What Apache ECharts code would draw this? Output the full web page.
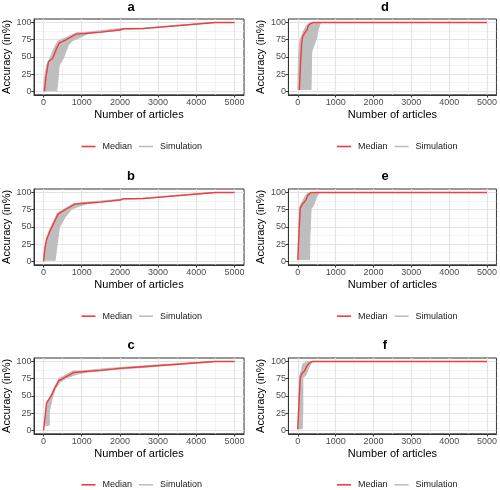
<!DOCTYPE html>
<html><head><meta charset="utf-8">
<script src="https://cdn.jsdelivr.net/npm/echarts@6/dist/echarts.min.js"></script>
<style>html,body{margin:0;padding:0;background:#fff}#c{width:500px;height:490px}</style>
</head><body><div id="c"></div>
<script>
const panelLabels = ['a', 'b', 'c', 'd', 'e', 'f'];
const xTicks = [0, 1000, 2000, 3000, 4000, 5000];
const xMinor = [500, 1500, 2500, 3500, 4500];
const yTicks = [0, 25, 50, 75, 100];
const yMinor = [12.5, 37.5, 62.5, 87.5];

// Panel a
const medianA = [[25,0],[60,20],[130,43],[240,48],[340,62],[410,70],[600,75],[850,83],[1100,84],[1500,86],[2000,89],[2100,91],[2600,91],[4500,100],[5000,100]];
const simLeftA = [[0,0],[30,20],[80,38],[165,48],[300,65],[385,73],[600,78],[870,85],[1200,86],[2000,91],[2600,92],[4400,100],[5000,100]];
const simRightA = [[340,0],[370,13],[410,38],[515,48],[645,67],[735,73],[950,78],[1170,84],[1500,86],[2000,89],[2600,91],[4500,100],[5000,100]];
// Panel b
const medianB = [[0,0],[40,20],[83,32],[170,44],[256,54],[386,69],[600,76],[822,83],[1000,84],[1500,86],[2000,89],[2100,91],[2600,91],[4500,100],[5000,100]];
const simLeftB = [[0,1],[30,20],[70,32],[150,45],[240,55],[360,70],[580,77],[800,84],[1000,85],[2000,90],[2600,92],[4400,100],[5000,100]];
const simRightB = [[300,1],[345,20],[415,49],[560,64],[735,76],[1040,82],[1170,84],[1500,86],[2000,89],[2600,91],[4500,100],[5000,100]];
// Panel c
const medianC = [[0,0],[40,20],[80,40],[200,50],[300,62],[400,72],[800,84],[1000,85],[1500,87],[2000,90],[2500,92],[4500,100],[5000,100]];
const simLeftC = [[40,6],[60,30],[100,42],[210,52],[320,66],[400,75],[780,86],[1000,86],[1500,89],[2000,91],[2500,93],[4400,100],[5000,100]];
const simRightC = [[150,7],[150,27],[215,44],[300,60],[430,70],[600,76],[900,82],[1200,85],[2000,89],[2500,91],[4500,100],[5000,100]];
// Panel d
const medianD = [[40,2],[70,40],[100,70],[130,80],[200,86],[250,90],[270,95],[330,98],[400,100],[5000,100]];
const simLeftD = [[0,2],[20,50],[60,75],[146,87],[230,95],[330,100],[5000,100]];
const simRightD = [[347,2],[365,58],[433,68],[496,78],[538,90],[600,100],[5000,100]];
// Panel e
const medianE = [[0,2],[30,40],[63,77],[115,83],[170,86],[220,90],[250,95],[288,97],[350,100],[5000,100]];
const simLeftE = [[0,2],[20,50],[45,78],[120,86],[180,93],[280,100],[5000,100]];
const simRightE = [[306,2],[320,40],[350,77],[420,82],[480,92],[560,100],[5000,100]];
// Panel f
const medianF = [[0,1.5],[30,40],[63,76],[105,82],[175,86],[235,93],[306,98],[393,100],[5000,100]];
const simLeftF = [[0,1.5],[20,40],[45,78],[100,88],[131,96],[260,100],[5000,100]];
const simRightF = [[115,1.5],[130,30],[131,76],[220,81],[262,88],[340,97],[400,100],[5000,100]];

const medians = [medianA, medianB, medianC, medianD, medianE, medianF];
const simLefts = [simLeftA, simLeftB, simLeftC, simLeftD, simLeftE, simLeftF];
const simRights = [simRightA, simRightB, simRightC, simRightD, simRightE, simRightF];

const FONT = 'Liberation Sans, Arial, Helvetica, sans-serif';
const RED = '#f23d3d';
const GREY = '#bebebe';

// layout (pixels)
const colLeft = [34, 288.4];
const colWidth = [210, 210.5];
const rowTop = [19, 189, 358];
const rowHeight = 75.8;
const titleTop = [1, 170, 339];
const legendTop = [142, 311.7, 480.3];
const legendLeft = [81.5, 337];
const titleCenter = [131, 385];

const grids = [], xAxes = [], yAxes = [], series = [], titles = [], legends = [];
const plain = function (v) { return String(v); };

for (let i = 0; i < 6; i++) {
  const col = i < 3 ? 0 : 1;
  const row = i % 3;
  grids.push({left: colLeft[col], top: rowTop[row], width: colWidth[col], height: rowHeight,
    show: true, borderColor: '#333', borderWidth: 1, backgroundColor: 'transparent', containLabel: false});
  // main x axis
  xAxes.push({gridIndex: i, type: 'value', min: -250, max: 5250, position: 'bottom',
    name: 'Number of articles', nameLocation: 'middle', nameGap: 14.4,
    nameTextStyle: {fontFamily: FONT, fontSize: 11, color: '#000'},
    axisLine: {show: true, onZero: false, lineStyle: {color: '#333', width: 1}},
    axisTick: {show: true, length: 2.7, customValues: xTicks, lineStyle: {color: '#333', width: 1}},
    axisLabel: {show: true, customValues: xTicks, formatter: plain, margin: 3, fontFamily: FONT, fontSize: 9, color: '#4d4d4d'},
    splitLine: {show: true, lineStyle: {color: '#e3e3e3', width: 1.1}}, z: 1});
  // minor x axis
  xAxes.push({gridIndex: i, type: 'value', min: -250, max: 5250, position: 'bottom',
    axisLine: {show: false, onZero: false}, axisTick: {show: false, customValues: xMinor},
    axisLabel: {show: false, customValues: xMinor},
    splitLine: {show: true, lineStyle: {color: '#eeeeee', width: 0.7}}, z: 0});
  yAxes.push({gridIndex: i, type: 'value', min: -5, max: 105, position: 'left',
    name: 'Accuracy (in%)', nameLocation: 'middle', nameGap: 21.5, nameRotate: 90,
    nameTextStyle: {fontFamily: FONT, fontSize: 11, color: '#000'},
    axisLine: {show: true, onZero: false, lineStyle: {color: '#333', width: 1}},
    axisTick: {show: true, length: 2.7, customValues: yTicks, lineStyle: {color: '#333', width: 1}},
    axisLabel: {show: true, customValues: yTicks, formatter: plain, margin: 2.5, fontFamily: FONT, fontSize: 9, color: '#4d4d4d'},
    splitLine: {show: true, lineStyle: {color: '#e3e3e3', width: 1.1}}, z: 1});
  yAxes.push({gridIndex: i, type: 'value', min: -5, max: 105, position: 'left',
    axisLine: {show: false, onZero: false}, axisTick: {show: false, customValues: yMinor},
    axisLabel: {show: false, customValues: yMinor},
    splitLine: {show: true, lineStyle: {color: '#eeeeee', width: 0.7}}, z: 0});

  const xi = 2 * i, yi = 2 * i;
  const poly = simLefts[i].concat(simRights[i].slice().reverse());
  series.push({type: 'custom', xAxisIndex: xi, yAxisIndex: yi, data: [[0, 0]], silent: true, z: 2,
    renderItem: function (params, api) {
      return {type: 'polygon', shape: {points: poly.map(function (p) { return api.coord(p); })},
        style: {fill: GREY, stroke: null}};
    }});
  [simLefts[i], simRights[i]].forEach(function (d) {
    series.push({type: 'line', name: 'Simulation', xAxisIndex: xi, yAxisIndex: yi, data: d,
      symbol: 'none', silent: true, z: 3, color: GREY, lineStyle: {color: GREY, width: 1.1}});
  });
  series.push({type: 'line', name: 'Median', xAxisIndex: xi, yAxisIndex: yi, data: medians[i],
    symbol: 'none', silent: true, z: 4, color: RED, lineStyle: {color: RED, width: 1.4}});

  const lbl = panelLabels[i];
  const w = {a: 7.2, b: 7.9, c: 7.2, d: 7.9, e: 7.2, f: 4.3}[lbl];
  titles.push({text: lbl, left: titleCenter[col] - w / 2, top: titleTop[row], padding: 0,
    textStyle: {fontFamily: FONT, fontSize: 13, fontWeight: 'bold', color: '#000'}});
  legends.push({data: [{name: 'Median', icon: 'rect'}, {name: 'Simulation', icon: 'rect'}],
    left: legendLeft[col], top: legendTop[row], padding: 0,
    orient: 'horizontal', itemWidth: 14, itemHeight: 1.6, itemGap: 7, selectedMode: false,
    textStyle: {fontFamily: FONT, fontSize: 9, color: '#1a1a1a', padding: [0, 0, 0, 2]}});
}

const chart = echarts.init(document.getElementById('c'), null, {renderer: 'canvas'});
chart.setOption({animation: false, backgroundColor: '#fff', title: titles, legend: legends,
  grid: grids, xAxis: xAxes, yAxis: yAxes, series: series});
</script></body></html>
